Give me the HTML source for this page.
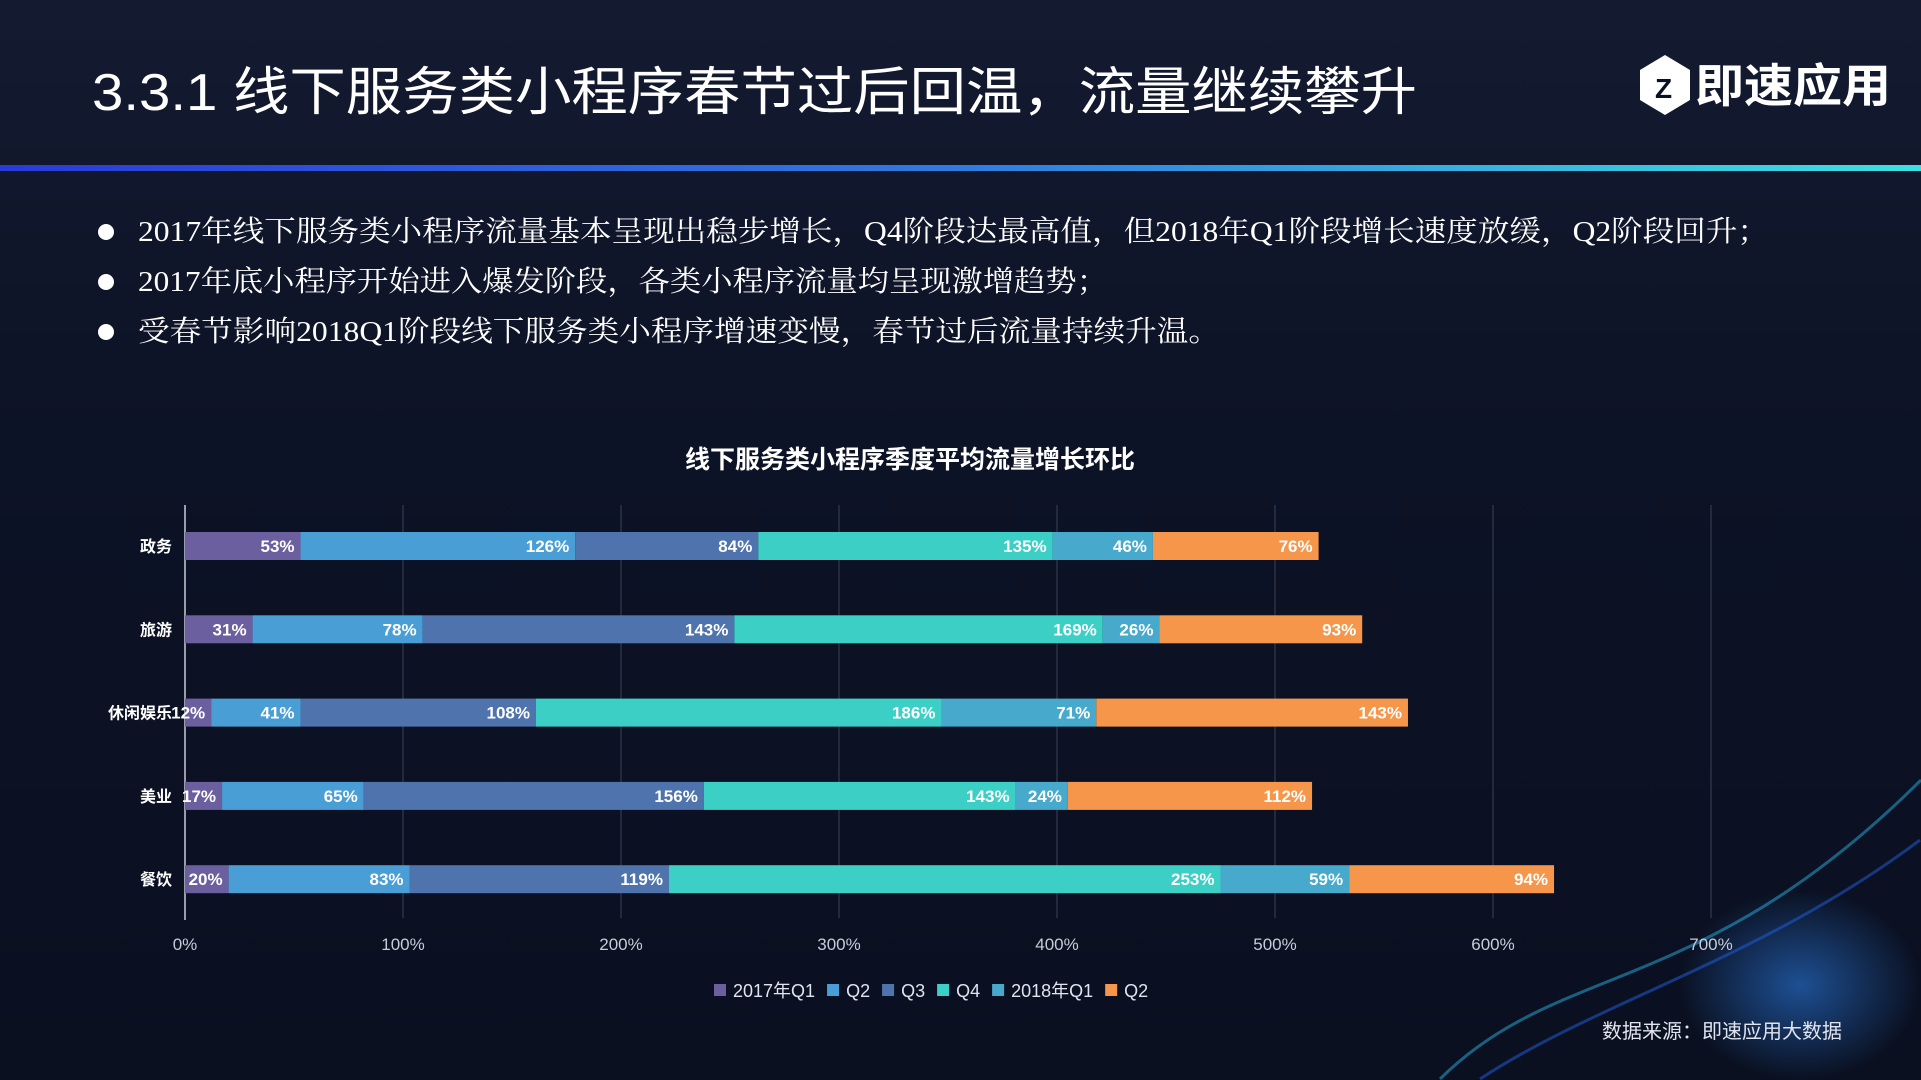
<!DOCTYPE html>
<html><head><meta charset="utf-8"><style>
html,body{margin:0;padding:0;background:#0b1122;width:1921px;height:1080px;overflow:hidden;}
svg{display:block;}
text{font-family:"Liberation Sans","Noto Sans CJK SC",sans-serif;}
.serif{font-family:"Liberation Serif","Noto Serif CJK SC",serif;}
</style></head><body>
<svg id="chart" width="1921" height="1080" viewBox="0 0 1921 1080" xmlns="http://www.w3.org/2000/svg">
<defs>
<linearGradient id="bg" x1="0" y1="0" x2="0" y2="1"><stop offset="0" stop-color="#141a30"/><stop offset="0.4" stop-color="#0d1326"/><stop offset="1" stop-color="#0a1020"/></linearGradient>
<linearGradient id="rule" x1="0" y1="0" x2="1" y2="0"><stop offset="0" stop-color="#2a3bd8"/><stop offset="0.5" stop-color="#2f7be0"/><stop offset="1" stop-color="#3de0e0"/></linearGradient>
<radialGradient id="wave" cx="0.5" cy="0.5" r="0.5"><stop offset="0" stop-color="#2a7ae0" stop-opacity="0.6"/><stop offset="1" stop-color="#2a7ae0" stop-opacity="0"/></radialGradient>
</defs>
<rect width="1921" height="1080" fill="url(#bg)"/>
<ellipse cx="1800" cy="985" rx="120" ry="95" fill="url(#wave)"/>
<path d="M1440 1079 C1560 960 1700 1000 1921 780" stroke="#2ab0e0" stroke-width="3" fill="none" opacity="0.5"/>
<path d="M1480 1079 C1600 1000 1760 960 1920 840" stroke="#2060e0" stroke-width="3" fill="none" opacity="0.5"/>
<text x="92" y="110" font-size="52" fill="#ffffff" textLength="1325" lengthAdjust="spacingAndGlyphs">3.3.1  线下服务类小程序春节过后回温，流量继续攀升</text>
<g>
<path d="M1640 70 L1665 55 L1690 70 L1690 100 L1665 115 L1640 100 Z" fill="#ffffff"/>
<text x="1655" y="98" font-size="28" font-weight="bold" fill="#0b1122">Z</text>
<text x="1695" y="102" font-size="46" font-weight="bold" fill="#ffffff" textLength="196" lengthAdjust="spacingAndGlyphs">即速应用</text>
</g>
<rect x="0" y="165" width="1921" height="6" fill="url(#rule)"/>
<g fill="#ffffff">
<circle cx="106" cy="232" r="8"/><circle cx="106" cy="282" r="8"/><circle cx="106" cy="332" r="8"/>
<text class="serif" x="138" y="241" font-size="29" textLength="1631" lengthAdjust="spacingAndGlyphs">2017年线下服务类小程序流量基本呈现出稳步增长，Q4阶段达最高值，但2018年Q1阶段增长速度放缓，Q2阶段回升；</text>
<text class="serif" x="138" y="291" font-size="29" textLength="970" lengthAdjust="spacingAndGlyphs">2017年底小程序开始进入爆发阶段，各类小程序流量均呈现激增趋势；</text>
<text class="serif" x="138" y="341" font-size="29" textLength="1082" lengthAdjust="spacingAndGlyphs">受春节影响2018Q1阶段线下服务类小程序增速变慢，春节过后流量持续升温。</text>
</g>
<text x="910" y="468" font-size="25" font-weight="bold" fill="#ffffff" text-anchor="middle">线下服务类小程序季度平均流量增长环比</text>
<g id="grid"></g><g id="bars"></g><g id="legend"></g>
<text x="1602" y="1038" font-size="20" fill="#e0e4ee">数据来源：即速应用大数据</text>
</svg>
<script>
const categories = ["政务","旅游","休闲娱乐","美业","餐饮"];
const seriesNames = ["2017年Q1","Q2","Q3","Q4","2018年Q1","Q2"];
const q1_2017 = [53,31,12,17,20];
const q2_2017 = [126,78,41,65,83];
const q3_2017 = [84,143,108,156,119];
const q4_2017 = [135,169,186,143,253];
const q1_2018 = [46,26,71,24,59];
const q2_2018 = [76,93,143,112,94];
const ticks = [0,100,200,300,400,500,600,700];
const colors = ["#6b5fa0","#4a9ed6","#4f74ad","#3ccfc6","#47a9cc","#f5964a"];
const series = [q1_2017,q2_2017,q3_2017,q4_2017,q1_2018,q2_2018];
const NS = "http://www.w3.org/2000/svg";
const x0 = 185, pxPer = 218/100;
const xs = v => x0 + v*pxPer;
const yTop = 532, yStep = 83.3, barH = 28;
const ys = i => yTop + i*yStep;
function mk(tag, attrs, parent){const e=document.createElementNS(NS,tag);for(const k in attrs)e.setAttribute(k,attrs[k]);parent.appendChild(e);return e;}
const grid = document.getElementById('grid');
ticks.forEach(t=>{
  if(t>0){const l=mk('line',{x1:xs(t),x2:xs(t),y1:505,y2:918,stroke:'#3a4258','stroke-width':1},grid);
  
  }
  const tx=mk('text',{x:xs(t),y:950,'font-size':17,fill:'#c8ccd8','text-anchor':'middle'},grid);
  tx.textContent=t+'%';
  
  
});
const ax=mk('line',{x1:x0,x2:x0,y1:505,y2:920,stroke:'#c8ccd8','stroke-width':1.5},grid);


const bars=document.getElementById('bars');
categories.forEach((c,i)=>{
  const y=ys(i);
  const cl=mk('text',{x:172,y:y+barH/2+6,'font-size':16,'font-weight':'bold',fill:'#ffffff','text-anchor':'end'},bars);
  cl.textContent=c;
  
  
  let acc=0;
  series.forEach((s,j)=>{
    const v=s[i];
    const r=mk('rect',{x:xs(acc),y:y,width:v*pxPer,height:barH,fill:colors[j]},bars);
    
    
    acc+=v;
    const t=mk('text',{x:xs(acc)-6,y:y+barH/2+6,'font-size':17,'font-weight':'bold',fill:'#ffffff','text-anchor':'end'},bars);
    t.textContent=v+'%';
    
    
  });
});
const lg=document.getElementById('legend');
let lx=714;
seriesNames.forEach((n,j)=>{
  const r=mk('rect',{x:lx,y:984,width:12,height:12,fill:colors[j]},lg);
  
  
  const t=mk('text',{x:lx+19,y:997,'font-size':18,fill:'#e0e4ee'},lg);
  t.textContent=n;
  
  
  lx+=19+t.getComputedTextLength()+12;
});
</script>
</body></html>
